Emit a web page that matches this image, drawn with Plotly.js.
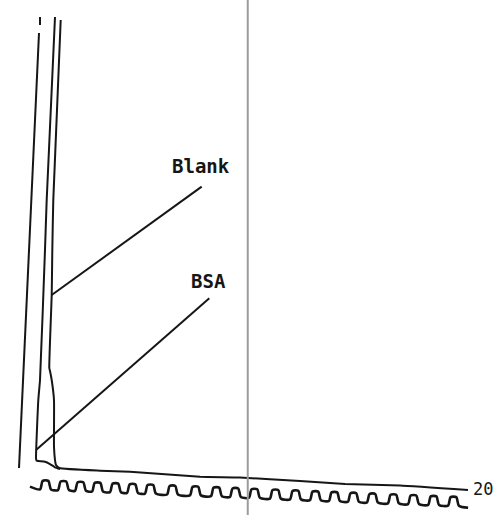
<!DOCTYPE html>
<html>
<head>
<meta charset="utf-8">
<script src="https://cdn.plot.ly/plotly-3.0.1.min.js"></script>
<style>
  html, body { margin: 0; padding: 0; background: #ffffff; }
  #chart { width: 500px; height: 515px; }
</style>
</head>
<body>
<div id="chart"></div>
<script>
// ---- Data (time in min, signal in arbitrary units) ----
// Start / injection line drawn by the pen
const startLineTime   = [0.458, 0.458, null, 0.412, -0.503];
const startLineSignal = [100.67, 98.89, null, 97.11, 0.44];

// BSA elution trace
const bsaTime   = [1.144, 0.764, 0.686, 0.458, 0.380, 0.275, 0.297, 0.380, 0.686, 0.915, 1.144, 1.373];
const bsaSignal = [100.67, 60.0, 48.89, 20.0, 15.56, 2.67, 2.11, 2.0, 1.84, 1.33, 0.6, 0.22];

// Blank elution trace (continues into the common baseline)
const blankTime   = [1.405, 1.066, 1.021, 0.993, 0.883, 0.915, 0.993, 1.098, 1.098, 1.144, 1.190, 1.341,
                     3.204, 4.577, 7.780, 9.611, 12.357, 14.416, 16.934, 20.046];
const blankSignal = [100.0, 60.0, 48.89, 38.89, 22.67, 22.0, 20.0, 15.56, 5.18, 2.22, 1.11, 0.44,
                     -0.16, -0.38, -1.49, -1.67, -2.44, -3.11, -3.44, -4.44];

// Leader lines from the labels to the traces
const blankLeaderTime   = [7.858, 0.993];
const blankLeaderSignal = [62.96, 38.89];
const bsaLeaderTime     = [8.206, 0.275];
const bsaLeaderSignal   = [38.16, 4.44];

// Labels
const labelText   = ["Blank", "BSA"];
const labelTime   = [7.826, 8.161];
const labelSignal = [67.5, 42.1];
const axisEndLabel = "20";
const axisEndTime = 20.17;
const axisEndSignal = -4.3;

// Time-marker pen: rising edge of each pulse and the pen's low level there
const markerEdges = [0.46, 1.28, 2.06, 2.84, 3.66, 4.44, 5.26, 6.27, 7.32, 8.28, 9.15,
                     10.02, 10.98, 11.90, 12.81, 13.68, 14.55, 15.42, 16.38, 17.30, 18.22, 19.13];
const markerLow   = [-4.31, -4.47, -4.62, -4.77, -4.93, -5.09, -5.24, -5.44, -5.64, -5.82, -6.00,
                     -6.17, -6.36, -6.53, -6.71, -6.88, -7.05, -7.22, -7.41, -7.58, -7.76, -7.93];
const markerStart = [0.0, -3.7];
const markerEnd   = [20.05, -8.4];
const markerHeight = 1.9;

// ---- Build the time-marker polyline from the read pulse edges ----
const mx = [markerStart[0]], my = [markerStart[1]];
for (let i = 0; i < markerEdges.length; i++) {
  const t0 = markerEdges[i], b = markerLow[i];
  mx.push(t0, t0 + 0.12, t0 + 0.38, t0 + 0.50);
  my.push(b, b + markerHeight, b + markerHeight, b);
}
mx.push(markerEnd[0]); my.push(markerEnd[1]);

const ink = "#161616";
const traces = [
  {x: startLineTime, y: startLineSignal, mode: "lines", line: {color: ink, width: 2}, connectgaps: false, hoverinfo: "skip"},
  {x: bsaTime, y: bsaSignal, mode: "lines", line: {color: ink, width: 2, shape: "spline", smoothing: 0.4}, name: "BSA", hoverinfo: "skip"},
  {x: blankTime, y: blankSignal, mode: "lines", line: {color: ink, width: 2, shape: "spline", smoothing: 0.4}, name: "Blank", hoverinfo: "skip"},
  {x: blankLeaderTime, y: blankLeaderSignal, mode: "lines", line: {color: ink, width: 2}, hoverinfo: "skip"},
  {x: bsaLeaderTime, y: bsaLeaderSignal, mode: "lines", line: {color: ink, width: 2}, hoverinfo: "skip"},
  {x: mx, y: my, mode: "lines", line: {color: ink, width: 2.6, shape: "spline", smoothing: 0.7}, hoverinfo: "skip"}
];

const labelFont = {family: "DejaVu Sans Mono, Liberation Mono, monospace", size: 19, color: ink, weight: 700};
const annotations = labelText.map((t, i) => ({
  x: labelTime[i], y: labelSignal[i], xref: "x", yref: "y",
  text: t, showarrow: false, xanchor: "center", yanchor: "middle",
  font: labelFont
}));
annotations.push({
  x: axisEndTime, y: axisEndSignal, xref: "x", yref: "y",
  text: axisEndLabel, showarrow: false, xanchor: "left", yanchor: "middle",
  font: {family: "DejaVu Sans Mono, Liberation Mono, monospace", size: 17, color: ink}
});

const layout = {
  width: 500, height: 515,
  margin: {l: 0, r: 0, t: 0, b: 0},
  paper_bgcolor: "#ffffff", plot_bgcolor: "#ffffff",
  showlegend: false,
  xaxis: {range: [-1.373, 21.510], visible: false, fixedrange: true},
  yaxis: {range: [-10, 104.444], visible: false, fixedrange: true},
  annotations: annotations,
  shapes: [
    {type: "line", xref: "paper", yref: "paper", x0: 0.4955, x1: 0.4955, y0: 0, y1: 1,
     line: {color: "#9c9c9c", width: 2}}
  ]
};

Plotly.newPlot("chart", traces, layout, {staticPlot: true, displayModeBar: false});
</script>
</body>
</html>
